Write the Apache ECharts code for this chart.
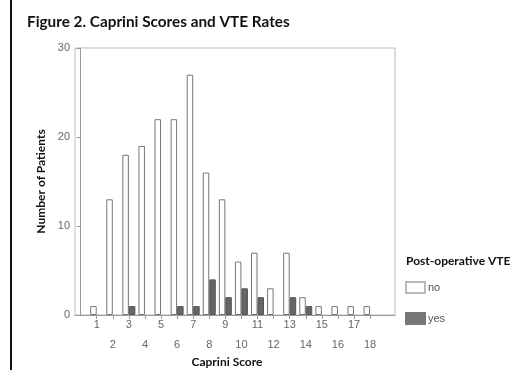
<!DOCTYPE html>
<html>
<head>
<meta charset="utf-8">
<script src="https://cdn.jsdelivr.net/npm/echarts@6/dist/echarts.min.js"></script>
<style>html,body{margin:0;padding:0;background:#fff;}#c{width:523px;height:370px;}</style>
</head>
<body>
<div id="c"></div>
<script>
var scores = [1,2,3,4,5,6,7,8,9,10,11,12,13,14,15,16,17,18];
var noVTE  = [1,13,18,19,22,22,27,16,13,6,7,3,7,2,1,1,1,1];
var yesVTE = [0,0,1,0,0,1,1,4,2,3,2,0,2,1,0,0,0,0];
var yTicks = [0,10,20,30];

var chart = echarts.init(document.getElementById('c'));
var labelFont = 'Arial';
var boldFont = 'Lato';
chart.setOption({
  animation: false,
  backgroundColor: '#fff',
  title: [{
    text: 'Figure 2. Caprini Scores and VTE Rates',
    left: 22, top: 10,
    textStyle: {fontFamily: boldFont, fontWeight: 'bold', fontSize: 15.3, color: '#111'}
  }, {
    text: 'Post-operative VTE',
    left: 401, top: 250,
    textStyle: {fontFamily: boldFont, fontWeight: 'bold', fontSize: 12, color: '#111'}
  }],
  graphic: [{
    type: 'rect', shape: {x: 10, y: 0, width: 2, height: 370},
    style: {fill: '#111'}
  }],
  legend: {
    orient: 'vertical', left: 400, top: 276,
    itemWidth: 19, itemHeight: 11, itemGap: 18,
    icon: 'rect',
    textStyle: {fontFamily: labelFont, fontSize: 11, color: '#555', padding: [0,0,0,-2]},
    data: [{name: 'no', itemStyle: {borderColor: '#bbb'}}, {name: 'yes', itemStyle: {color: '#777', borderColor: '#777'}}]
  },
  grid: {left: 75, top: 48, width: 320, height: 267, show: true, borderColor: '#bbb', borderWidth: 1,
         containLabel: false, outerBoundsMode: 'none'},
  xAxis: {
    type: 'value', min: -0.35, max: 19.55,
    name: 'Caprini Score', nameLocation: 'middle', nameGap: 41, nameMoveOverlap: false,
    nameTextStyle: {fontFamily: boldFont, fontWeight: 'bold', fontSize: 12, color: '#111', padding: [0,16,0,0], verticalAlign: 'top'},
    axisLine: {show: true, lineStyle: {color: '#999'}},
    axisTick: {show: true, length: 4, lineStyle: {color: '#999'}, customValues: scores},
    splitLine: {show: false},
    axisLabel: {
      customValues: scores, margin: 0,
      fontFamily: labelFont, fontSize: 11, color: '#666', lineHeight: 20,
      formatter: function (v) { return (v % 2 === 0) ? '\n' + v : '' + v; }
    }
  },
  yAxis: {
    type: 'value', min: 0, max: 30, interval: 10,
    name: 'Number of Patients', nameLocation: 'middle', nameGap: 28, nameMoveOverlap: false,
    nameTextStyle: {fontFamily: boldFont, fontWeight: 'bold', fontSize: 12, color: '#111'},
    axisLine: {show: true, lineStyle: {color: '#999'}},
    axisTick: {show: true, length: 4, lineStyle: {color: '#999'}},
    splitLine: {show: false},
    axisLabel: {fontFamily: labelFont, fontSize: 11, color: '#666', margin: 5}
  },
  series: [{
    name: 'no', type: 'bar', barWidth: 6.5, barGap: '0%',
    itemStyle: {color: '#fff', borderColor: '#777', borderWidth: 1},
    data: scores.map(function (s, i) { return [s, noVTE[i]]; })
  }, {
    name: 'yes', type: 'bar', barWidth: 6.5, barGap: '0%',
    itemStyle: {color: '#666', borderColor: '#555', borderWidth: 1},
    data: scores.map(function (s, i) { return [s, yesVTE[i] === 0 ? null : yesVTE[i]]; })
  }]
});
</script>
</body>
</html>
